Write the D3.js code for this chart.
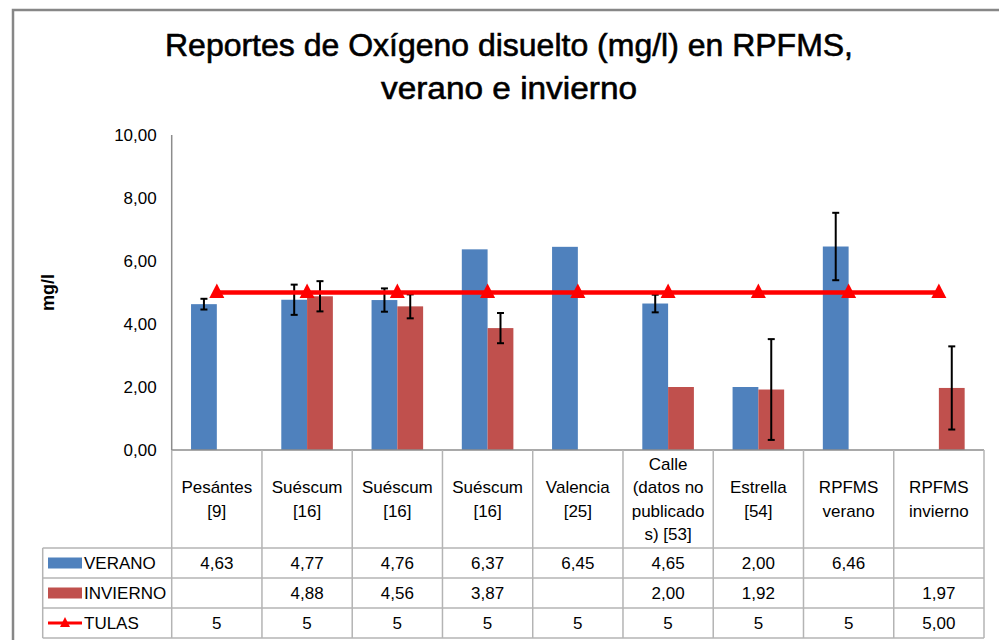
<!DOCTYPE html>
<html>
<head>
<meta charset="utf-8">
<script src="https://cdn.jsdelivr.net/npm/d3@7"></script>
<style>
  html, body { margin: 0; padding: 0; background: #fff; }
  svg { display: block; font-family: "Liberation Sans", Arial, sans-serif; }
</style>
</head>
<body>
<svg id="chart" width="999" height="640"></svg>
<script>
// Sites / references (table columns)
const categories = [
  ["Pesántes", "[9]"],
  ["Suéscum", "[16]"],
  ["Suéscum", "[16]"],
  ["Suéscum", "[16]"],
  ["Valencia", "[25]"],
  ["Calle", "(datos no", "publicado", "s) [53]"],
  ["Estrella", "[54]"],
  ["RPFMS", "verano"],
  ["RPFMS", "invierno"]
];

// Dissolved oxygen, mg/l
const verano   = [4.63, 4.77, 4.76, 6.37, 6.45, 4.65, 2.00, 6.46, null];
const invierno = [null, 4.88, 4.56, 3.87, null, 2.00, 1.92, null, 1.97];
const tulas    = [5, 5, 5, 5, 5, 5, 5, 5, 5];
const tulasDecimals = [0, 0, 0, 0, 0, 0, 0, 0, 2];

// Error bar half-widths (± mg/l)
const veranoErr   = [0.17, 0.48, 0.37, null, null, 0.28, null, 1.07, null];
const inviernoErr = [null, 0.48, 0.38, 0.48, null, null, 1.60, null, 1.32];

const yTicks = [0, 2, 4, 6, 8, 10];
const seriesNames = ["VERANO", "INVIERNO", "TULAS"];
const titleLines = ["Reportes de Oxígeno disuelto (mg/l) en RPFMS,", "verano e invierno"];

const colors = { VERANO: "#4F81BD", INVIERNO: "#C0504D", TULAS: "#FF0000" };

const svg = d3.select("#chart");
const fmt = (v, d) => v == null ? "" : d3.format(`.${d}f`)(v).replace(".", ",");

// Layout
const plot = { left: 171.7, right: 984, top: 135, bottom: 450 };
const table = { left: 42.7, labelBottom: 548, rowH: 30 };
const gridColor = "#b4b4b4";
const axisColor = "#8c8c8c";

// Outer frame
svg.append("rect")
  .attr("x", 13).attr("y", 10).attr("width", 1000).attr("height", 640)
  .attr("fill", "none").attr("stroke", "#878787").attr("stroke-width", 2.5);

// Title
svg.append("g").selectAll("text").data(titleLines).join("text")
  .attr("x", 509).attr("y", (d, i) => 56 + i * 43)
  .attr("text-anchor", "middle")
  .attr("font-size", 32)
  .attr("stroke", "#000").attr("stroke-width", 0.6)
  .attr("textLength", (d, i) => i === 0 ? 688 : 256)
  .attr("lengthAdjust", "spacingAndGlyphs")
  .attr("fill", "#000")
  .text(d => d);

// Scales
const x0 = d3.scaleBand().domain(d3.range(categories.length))
  .range([plot.left, plot.right]).paddingInner(0).paddingOuter(0);
const x1 = d3.scaleBand().domain(["VERANO", "INVIERNO"])
  .range([0, x0.bandwidth()]).paddingInner(0).paddingOuter(0.75);
const y = d3.scaleLinear().domain([0, 10]).range([plot.bottom, plot.top]);

// Y axis
const yAxis = svg.append("g").attr("transform", `translate(${plot.left},0)`)
  .call(d3.axisLeft(y).tickValues(yTicks).tickSize(0).tickPadding(15)
    .tickFormat(d => fmt(d, 2)));
yAxis.select(".domain").remove();
yAxis.selectAll("text").attr("font-size", 17).attr("fill", "#000")
  .attr("font-family", "Liberation Sans, Arial, sans-serif");

svg.append("text")
  .attr("transform", `translate(54,${(plot.top + plot.bottom) / 2}) rotate(-90)`)
  .attr("text-anchor", "middle").attr("font-size", 18).attr("font-weight", "bold")
  .text("mg/l");

// Bars
const barData = [];
categories.forEach((c, i) => {
  if (verano[i] != null) barData.push({ i, s: "VERANO", v: verano[i], e: veranoErr[i] });
  if (invierno[i] != null) barData.push({ i, s: "INVIERNO", v: invierno[i], e: inviernoErr[i] });
});

svg.append("g").selectAll("rect").data(barData).join("rect")
  .attr("x", d => x0(d.i) + x1(d.s))
  .attr("width", x1.bandwidth())
  .attr("y", d => y(d.v))
  .attr("height", d => y(0) - y(d.v))
  .attr("fill", d => colors[d.s]);

// Error bars
const errG = svg.append("g").attr("stroke", "#000").attr("stroke-width", 2);
barData.filter(d => d.e != null).forEach(d => {
  const cx = x0(d.i) + x1(d.s) + x1.bandwidth() / 2;
  const hi = y(d.v + d.e), lo = y(Math.max(0, d.v - d.e));
  errG.append("line").attr("x1", cx).attr("x2", cx).attr("y1", hi).attr("y2", lo);
  errG.append("line").attr("x1", cx - 3.5).attr("x2", cx + 3.5).attr("y1", hi).attr("y2", hi);
  errG.append("line").attr("x1", cx - 3.5).attr("x2", cx + 3.5).attr("y1", lo).attr("y2", lo);
});

// TULAS reference line
const cxOf = i => x0(i) + x0.bandwidth() / 2;
const line = d3.line().x((d, i) => cxOf(i)).y(d => y(d));
svg.append("path").datum(tulas)
  .attr("d", line).attr("fill", "none")
  .attr("stroke", colors.TULAS).attr("stroke-width", 4.5);
const tri = "M0,-9L7.5,5.5L-7.5,5.5Z";
svg.append("g").selectAll("path").data(tulas).join("path")
  .attr("transform", (d, i) => `translate(${cxOf(i)},${y(d)})`)
  .attr("d", tri).attr("fill", colors.TULAS);

// Plot axes lines
svg.append("line").attr("x1", plot.left).attr("x2", plot.left)
  .attr("y1", plot.top).attr("y2", plot.bottom)
  .attr("stroke", axisColor).attr("stroke-width", 1.5);

// Data table
const rowsTop = table.labelBottom;
const nRows = seriesNames.length;
const tableBottom = rowsTop + nRows * table.rowH;
const tg = svg.append("g").attr("stroke", gridColor).attr("stroke-width", 1.5);

// horizontal lines
tg.append("line").attr("x1", plot.left).attr("x2", plot.right)
  .attr("y1", plot.bottom).attr("y2", plot.bottom).attr("stroke", axisColor);
d3.range(nRows + 1).forEach(r => {
  tg.append("line").attr("x1", table.left).attr("x2", plot.right)
    .attr("y1", rowsTop + r * table.rowH).attr("y2", rowsTop + r * table.rowH);
});
// vertical lines
d3.range(categories.length + 1).forEach(k => {
  const xx = k < categories.length ? x0(k) : plot.right;
  tg.append("line").attr("x1", xx).attr("x2", xx)
    .attr("y1", plot.bottom).attr("y2", tableBottom);
});
tg.append("line").attr("x1", table.left).attr("x2", table.left)
  .attr("y1", rowsTop).attr("y2", tableBottom);

// Category labels
const lh = 23.5;
const catG = svg.append("g").attr("font-size", 17).attr("text-anchor", "middle").attr("fill", "#000");
categories.forEach((lines, i) => {
  const mid = (plot.bottom + rowsTop) / 2;
  const start = mid - (lines.length - 1) * lh / 2 + 6;
  lines.forEach((t, j) => {
    catG.append("text").attr("x", cxOf(i)).attr("y", start + j * lh).text(t);
  });
});

// Value rows
const rowValues = [
  verano.map(v => fmt(v, 2)),
  invierno.map(v => fmt(v, 2)),
  tulas.map((v, i) => fmt(v, tulasDecimals[i]))
];
const valG = svg.append("g").attr("font-size", 17).attr("text-anchor", "middle").attr("fill", "#000");
rowValues.forEach((vals, r) => {
  vals.forEach((t, i) => {
    valG.append("text").attr("x", cxOf(i))
      .attr("y", rowsTop + r * table.rowH + table.rowH / 2 + 6).text(t);
  });
});

// Legend keys in the table
const legG = svg.append("g");
seriesNames.forEach((s, r) => {
  const cy = rowsTop + r * table.rowH + table.rowH / 2;
  if (s === "TULAS") {
    legG.append("line").attr("x1", 48).attr("x2", 82).attr("y1", cy).attr("y2", cy)
      .attr("stroke", colors.TULAS).attr("stroke-width", 3);
    legG.append("path").attr("transform", `translate(65,${cy})`)
      .attr("d", "M0,-6L5,4L-5,4Z").attr("fill", colors.TULAS);
  } else {
    legG.append("rect").attr("x", 48).attr("y", cy - 5.5).attr("width", 34).attr("height", 11)
      .attr("fill", colors[s]);
  }
  legG.append("text").attr("x", 84).attr("y", cy + 6).attr("font-size", 17).attr("fill", "#000").text(s);
});
</script>
</body>
</html>
